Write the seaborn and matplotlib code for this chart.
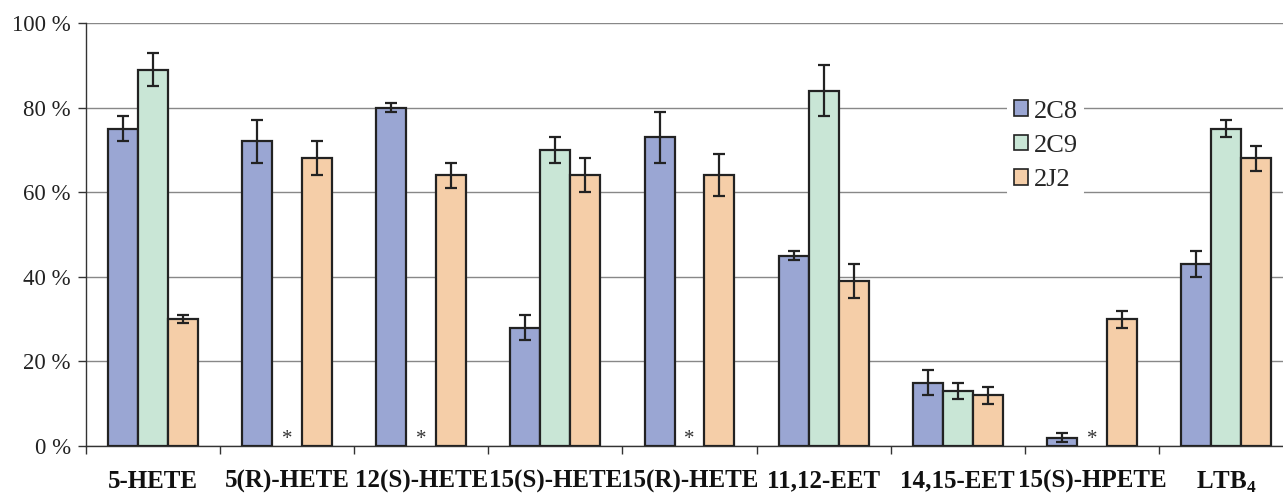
import numpy as np
import pandas as pd
import matplotlib
matplotlib.use("Agg")
import matplotlib.pyplot as plt
import seaborn as sns

categories = ["5-HETE", "5(R)-HETE", "12(S)-HETE", "15(S)-HETE", "15(R)-HETE",
              "11,12-EET", "14,15-EET", "15(S)-HPETE", "LTB4"]
tick_labels = ["5-HETE", "5(R)-HETE", "12(S)-HETE", "15(S)-HETE", "15(R)-HETE",
               "11,12-EET", "14,15-EET", "15(S)-HPETE", r"LTB$_\mathbf{4}$"]
series = ["2C8", "2C9", "2J2"]
val_2C8 = [75, 72, 80, 28, 73, 45, 15, 2, 43]
val_2C9 = [89, np.nan, np.nan, 70, np.nan, 84, 13, np.nan, 75]
val_2J2 = [30, 68, 64, 64, 64, 39, 12, 30, 68]
err_2C8 = [3, 5, 1, 3, 6, 1, 3, 1, 3]
err_2C9 = [4, 0, 0, 3, 0, 6, 2, 0, 2]
err_2J2 = [1, 4, 3, 4, 5, 4, 2, 2, 3]
colors = ["#9aa6d3", "#c9e6d6", "#f5cea8"]

sns.set_theme(style="white")
plt.rcParams["font.family"] = ["Liberation Serif", "DejaVu Serif"]
plt.rcParams["mathtext.fontset"] = "custom"
plt.rcParams["mathtext.bf"] = "Liberation Serif:bold"
plt.rcParams["mathtext.rm"] = "Liberation Serif"

rows = []
for s, vals, errs in zip(series, [val_2C8, val_2C9, val_2J2], [err_2C8, err_2C9, err_2J2]):
    for c, v, e in zip(categories, vals, errs):
        rows.append({"cat": c, "series": s, "value": v, "err": e})
df = pd.DataFrame(rows)

fig = plt.figure(figsize=(12.83, 4.93), dpi=100)
ax = fig.add_axes([86 / 1283, 47 / 493, 1207 / 1283, 423 / 493])

w_total = 0.67
sns.barplot(data=df.dropna(subset=["value"]), x="cat", y="value", hue="series",
            order=categories, hue_order=series, palette=colors, saturation=1,
            width=w_total, gap=0, errorbar=None, edgecolor="#222222",
            linewidth=1.6, ax=ax, zorder=3)

bw = w_total / len(series)
for i, c in enumerate(categories):
    for j, s in enumerate(series):
        r = df[(df.cat == c) & (df.series == s)].iloc[0]
        x = i + (j - 1) * bw
        if np.isnan(r.value):
            ax.text(x, -0.6, "*", ha="center", va="bottom", fontsize=15,
                    color="#333333")
        else:
            ax.errorbar(x, r.value, yerr=r.err, fmt="none", ecolor="#222222",
                        elinewidth=1.6, capsize=4.5, capthick=1.6, zorder=4)

ax.set_ylim(0, 100)
ax.set_xlim(-0.5, len(categories) - 0.5)
ax.set_yticks([0, 20, 40, 60, 80, 100])
ax.set_yticklabels([f"{v} %" for v in [0, 20, 40, 60, 80, 100]], fontsize=16.5)
ax.set_xticks(range(len(categories)))
ax.set_xticklabels(tick_labels, fontsize=18, fontweight="bold")
ax.set_xticks(np.arange(-0.5, len(categories), 1.0), minor=True)
ax.tick_params(axis="x", which="major", length=0, pad=17, colors="#111111")
ax.tick_params(axis="x", which="minor", length=6, width=1, color="#333333", direction="out", bottom=True)
ax.tick_params(axis="y", which="major", length=6, width=1, color="#333333", direction="out", left=True, pad=5)
for lbl in ax.get_yticklabels():
    lbl.set_color("#222222")
ax.yaxis.grid(True, color="#888888", linewidth=1, zorder=0)
ax.set_axisbelow(True)
ax.set_xlabel("")
ax.set_ylabel("")
for side in ["top", "right"]:
    ax.spines[side].set_visible(False)
for side in ["left", "bottom"]:
    ax.spines[side].set_color("#333333")
    ax.spines[side].set_linewidth(1)

handles, labels = ax.get_legend_handles_labels()
leg = ax.legend(handles, labels, loc="center", bbox_to_anchor=(0.795, 0.71),
                fontsize=19, frameon=True, facecolor="white", edgecolor="none",
                framealpha=1, handlelength=0.55, handleheight=0.55,
                handletextpad=0.2, labelspacing=0.45, borderpad=0.25)
for h in leg.legend_handles:
    h.set_edgecolor("#222222")
    h.set_linewidth(1.2)

fig.savefig("out.png", dpi=100)
